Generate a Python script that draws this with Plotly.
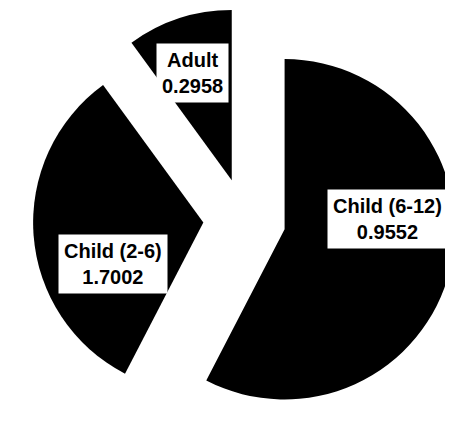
import plotly.graph_objects as go

# Slices in clockwise order starting at 12 o'clock
categories = ["Child (6-12)", "Child (2-6)", "Adult"]
slice_values = [1.7002, 0.9552, 0.2958]
# Values printed in the label boxes (as shown in the reference)
label_values = ["0.9552", "1.7002", "0.2958"]

W, H = 453, 423
L, R, T, B = 20, 0, 0, 0
PW, PH = W - L - R, H - T - B

# Label box centres in pixels of the picture
label_px = [379, 105, 184.5]
label_py = [211, 255.5, 65]

fig = go.Figure(
    go.Pie(
        labels=categories,
        values=slice_values,
        sort=False,
        direction="clockwise",
        rotation=0,
        pull=0.2424,
        marker=dict(colors=["black"] * 3, line=dict(width=0)),
        textinfo="none",
        hoverinfo="label+value",
        showlegend=False,
    )
)

for cat, val, px, py in zip(categories, label_values, label_px, label_py):
    fig.add_annotation(
        x=(px - L) / PW, y=1 - (py - T) / PH, xref="paper", yref="paper",
        text=f"<b>{cat}</b><br><b>{val}</b>",
        showarrow=False,
        font=dict(family="Arial, Liberation Sans, sans-serif", size=20, color="black"),
        bgcolor="white",
        borderpad=5,
        xanchor="center", yanchor="middle",
    )

fig.update_layout(
    width=W,
    height=H,
    margin=dict(l=L, r=R, t=T, b=B),
    paper_bgcolor="white",
    plot_bgcolor="white",
)

fig.write_html("out.html")
